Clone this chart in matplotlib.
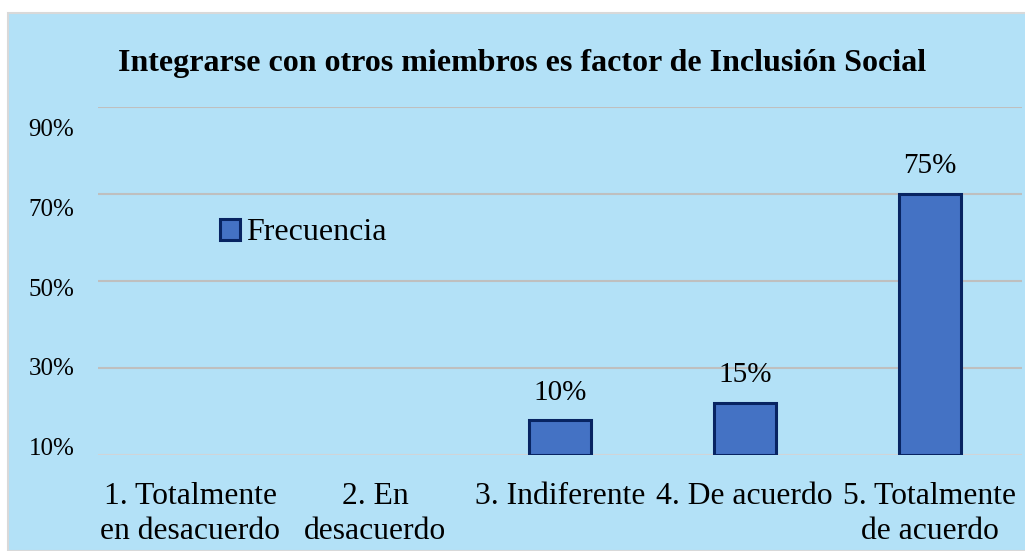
import matplotlib.pyplot as plt
from matplotlib.patches import Rectangle

categories = ["1. Totalmente\nen desacuerdo", "2. En\ndesacuerdo", "3. Indiferente",
              "4. De acuerdo", "5. Totalmente\nde acuerdo"]
frecuencia = [0, 0, 10, 15, 75]
bar_labels = ["", "", "10%", "15%", "75%"]
grid_values = [0, 25, 50, 75, 100]
# axis labels in the original sit slightly off the gridlines
ytick_positions = [2.3, 25.3, 48.0, 71.0, 94.0]
ytick_labels = ["10%", "30%", "50%", "70%", "90%"]

BG = "#B3E1F7"
FILL = "#4472C4"
EDGE = "#082462"

plt.rcParams["font.family"] = ["Liberation Serif", "DejaVu Serif"]

fig = plt.figure(figsize=(10.25, 5.51), dpi=100)
fig.patch.set_facecolor("white")
# chart area box, drawn behind the axes
fig.patches.append(Rectangle((8 / 1025, 0), 1, 1 - 13 / 551, transform=fig.transFigure,
                             facecolor=BG, edgecolor="#D9D9D9", linewidth=1.5, zorder=-10))

ax = fig.add_axes([98 / 1025, 1 - 455 / 551, 924 / 1025, 348 / 551])
ax.set_facecolor("none")

for g in grid_values:
    ax.axhline(g, color="#D0D4D8" if g == 0 else "#BFBFBF", linewidth=1.5, zorder=1)

x = list(range(len(categories)))
xs = [i for i, v in zip(x, frecuencia) if v > 0]
vs = [v for v in frecuencia if v > 0]
ax.bar(xs, vs, width=0.335, color=FILL, edgecolor=EDGE, linewidth=2.2, zorder=3,
       label="Frecuencia")

for i, v, lab in zip(x, frecuencia, bar_labels):
    if lab:
        ax.annotate(lab, (i, v), xytext=(0, 10.5), textcoords="offset points",
                    ha="center", va="bottom", fontsize=21, zorder=4)

ax.set_xlim(-0.5, len(categories) - 0.5)
ax.set_ylim(0, 100)
ax.set_xticks(x)
ax.set_xticklabels(categories, fontsize=22.8, linespacing=1.28)
ax.set_yticks(ytick_positions)
ax.set_yticklabels(ytick_labels, fontsize=18)
ax.tick_params(axis="both", length=0)
ax.tick_params(axis="x", pad=19.5)
ax.tick_params(axis="y", pad=17)
for s in ax.spines.values():
    s.set_visible(False)

ax.legend(loc="center left", bbox_to_anchor=(0.132, 0.638), frameon=False,
          fontsize=23, handlelength=0.62, handleheight=0.62, handletextpad=0.2,
          borderpad=0, borderaxespad=0)

fig.text(522 / 1025, 1 - 64 / 551, "Integrarse con otros miembros es factor de Inclusión Social",
         ha="center", va="center", fontsize=23, fontweight="bold")

fig.savefig("out.png", dpi=100, facecolor=fig.get_facecolor())
